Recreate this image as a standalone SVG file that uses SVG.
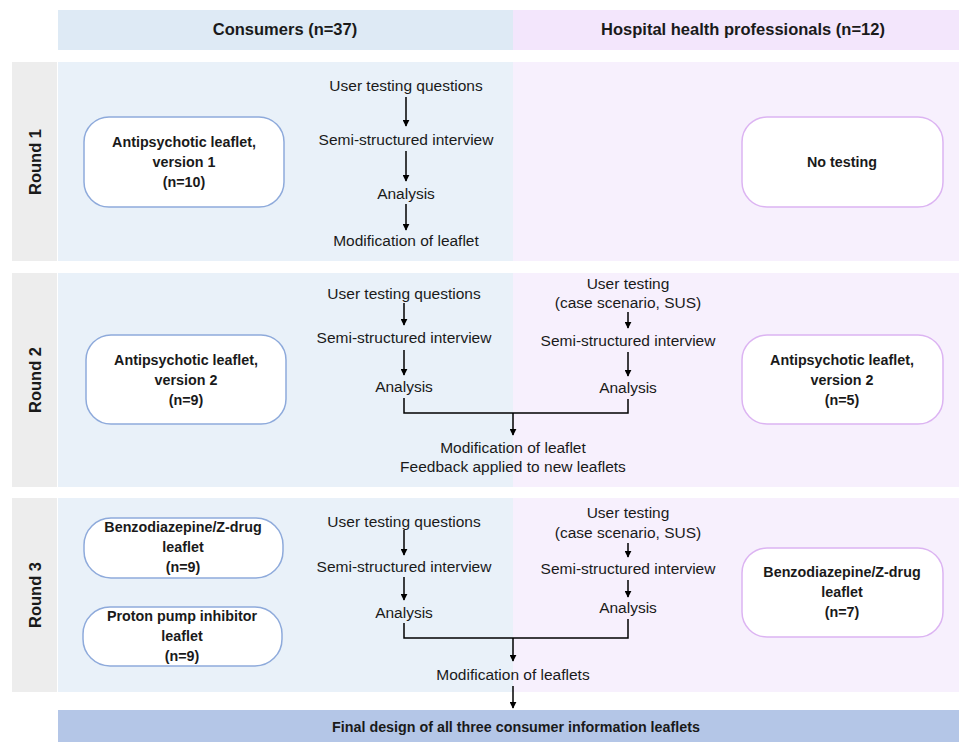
<svg xmlns="http://www.w3.org/2000/svg" width="959" height="742" viewBox="0 0 959 742">
<style>
text{font-family:"Liberation Sans",Arial,sans-serif;fill:#1a1a1a}
.t{font-size:15.5px;text-anchor:middle;dominant-baseline:central}
.b{font-size:14.3px;font-weight:bold;text-anchor:middle;dominant-baseline:central}
.h{font-size:16.5px;font-weight:bold;text-anchor:middle;dominant-baseline:central}
.cb{fill:#fff;stroke:#8eaadb;stroke-width:1.5}
.pb{fill:#fff;stroke:#dcb4f2;stroke-width:1.5}
.ln{fill:none;stroke:#000;stroke-width:1.5}
.ar{fill:none;stroke:#000;stroke-width:1.5;marker-end:url(#ah)}
</style>
<defs>
<marker id="ah" viewBox="0 0 10 10" refX="9" refY="5" markerWidth="7" markerHeight="7" markerUnits="userSpaceOnUse" orient="auto"><path d="M0,0L10,5L0,10z" fill="#000"/></marker>
</defs>
<rect width="959" height="742" fill="#fff"/>
<g id="backgrounds">
<rect x="58" y="10" width="455" height="40" fill="#deeaf5"/>
<rect x="513" y="10" width="446" height="40" fill="#f3e6fc"/>
<rect x="12" y="62" width="45" height="199" fill="#ededed"/>
<rect x="58" y="62" width="455" height="199" fill="#e9f1f9"/>
<rect x="513" y="62" width="446" height="199" fill="#f7f0fd"/>
<rect x="12" y="273" width="45" height="214" fill="#ededed"/>
<rect x="58" y="273" width="455" height="214" fill="#e9f1f9"/>
<rect x="513" y="273" width="446" height="214" fill="#f7f0fd"/>
<rect x="12" y="498" width="45" height="194" fill="#ededed"/>
<rect x="58" y="498" width="455" height="194" fill="#e9f1f9"/>
<rect x="513" y="498" width="446" height="194" fill="#f7f0fd"/>
</g>
<g id="headers">
<text class="h" x="285" y="29">Consumers (n=37)</text>
<text class="h" x="743" y="29">Hospital health professionals (n=12)</text>
<text class="h" transform="translate(35,162) rotate(-90)">Round 1</text>
<text class="h" transform="translate(35,380) rotate(-90)">Round 2</text>
<text class="h" transform="translate(35,595) rotate(-90)">Round 3</text>
</g>
<g id="r1-consumer-box"><rect class="cb" x="84" y="117" width="200" height="90" rx="25"/>
<text class="b" x="184" y="142">Antipsychotic leaflet,</text><text class="b" x="184" y="162">version 1</text><text class="b" x="184" y="182">(n=10)</text></g>
<g id="r1-hp-box"><rect class="pb" x="742" y="117" width="201" height="90" rx="25"/>
<text class="b" x="842" y="162">No testing</text></g>
<g id="r1-steps">
<text class="t" x="406" y="85">User testing questions</text>
<text class="t" x="406" y="139">Semi-structured interview</text>
<text class="t" x="406" y="193">Analysis</text>
<text class="t" x="406" y="240">Modification of leaflet</text>
</g>
<g id="r2-consumer-box"><rect class="cb" x="86" y="335" width="200" height="89" rx="25"/>
<text class="b" x="186" y="360">Antipsychotic leaflet,</text><text class="b" x="186" y="380">version 2</text><text class="b" x="186" y="400">(n=9)</text></g>
<g id="r2-hp-box"><rect class="pb" x="742" y="335" width="201" height="89" rx="25"/>
<text class="b" x="842" y="360">Antipsychotic leaflet,</text><text class="b" x="842" y="380">version 2</text><text class="b" x="842" y="400">(n=5)</text></g>
<g id="r2-steps">
<text class="t" x="404" y="293">User testing questions</text>
<text class="t" x="404" y="337">Semi-structured interview</text>
<text class="t" x="404" y="386">Analysis</text>
<text class="t" x="628" y="283">User testing</text>
<text class="t" x="628" y="302">(case scenario, SUS)</text>
<text class="t" x="628" y="340">Semi-structured interview</text>
<text class="t" x="628" y="387">Analysis</text>
<text class="t" x="513" y="447">Modification of leaflet</text>
<text class="t" x="513" y="466">Feedback applied to new leaflets</text>
</g>
<g id="r3-consumer-box1"><rect class="cb" x="84" y="518" width="199" height="60" rx="27"/>
<text class="b" x="183" y="527">Benzodiazepine/Z-drug</text><text class="b" x="183" y="547">leaflet</text><text class="b" x="183" y="567">(n=9)</text></g>
<g id="r3-consumer-box2"><rect class="cb" x="83" y="607" width="199" height="59" rx="27"/>
<text class="b" x="182" y="616">Proton pump inhibitor</text><text class="b" x="182" y="636">leaflet</text><text class="b" x="182" y="656">(n=9)</text></g>
<g id="r3-hp-box"><rect class="pb" x="742" y="548" width="201" height="89" rx="25"/>
<text class="b" x="842" y="572">Benzodiazepine/Z-drug</text><text class="b" x="842" y="592">leaflet</text><text class="b" x="842" y="612">(n=7)</text></g>
<g id="r3-steps">
<text class="t" x="404" y="521">User testing questions</text>
<text class="t" x="404" y="566">Semi-structured interview</text>
<text class="t" x="404" y="612">Analysis</text>
<text class="t" x="628" y="512">User testing</text>
<text class="t" x="628" y="532">(case scenario, SUS)</text>
<text class="t" x="628" y="568">Semi-structured interview</text>
<text class="t" x="628" y="607">Analysis</text>
<text class="t" x="513" y="674">Modification of leaflets</text>
</g>
<g id="final"><rect x="58" y="710" width="901" height="32" fill="#b4c6e7"/>
<text class="b" x="516" y="727">Final design of all three consumer information leaflets</text></g>
<g id="connectors">
<line class="ar" x1="406" y1="97" x2="406" y2="126"/>
<line class="ar" x1="406" y1="151" x2="406" y2="181"/>
<line class="ar" x1="406" y1="204" x2="406" y2="230"/>
<line class="ar" x1="404" y1="303" x2="404" y2="325"/>
<line class="ar" x1="404" y1="350" x2="404" y2="375"/>
<line class="ar" x1="628" y1="312" x2="628" y2="328"/>
<line class="ar" x1="628" y1="352" x2="628" y2="376"/>
<polyline class="ln" points="404,398 404,413 628,413 628,399"/>
<line class="ar" x1="513" y1="413" x2="513" y2="435"/>
<line class="ar" x1="404" y1="530" x2="404" y2="555"/>
<line class="ar" x1="404" y1="577" x2="404" y2="600"/>
<line class="ar" x1="628" y1="543" x2="628" y2="557"/>
<line class="ar" x1="628" y1="580" x2="628" y2="597"/>
<polyline class="ln" points="404,623 404,638 628,638 628,619"/>
<line class="ar" x1="513" y1="638" x2="513" y2="661"/>
<line class="ar" x1="513" y1="686" x2="513" y2="708"/>
</g>
</svg>
